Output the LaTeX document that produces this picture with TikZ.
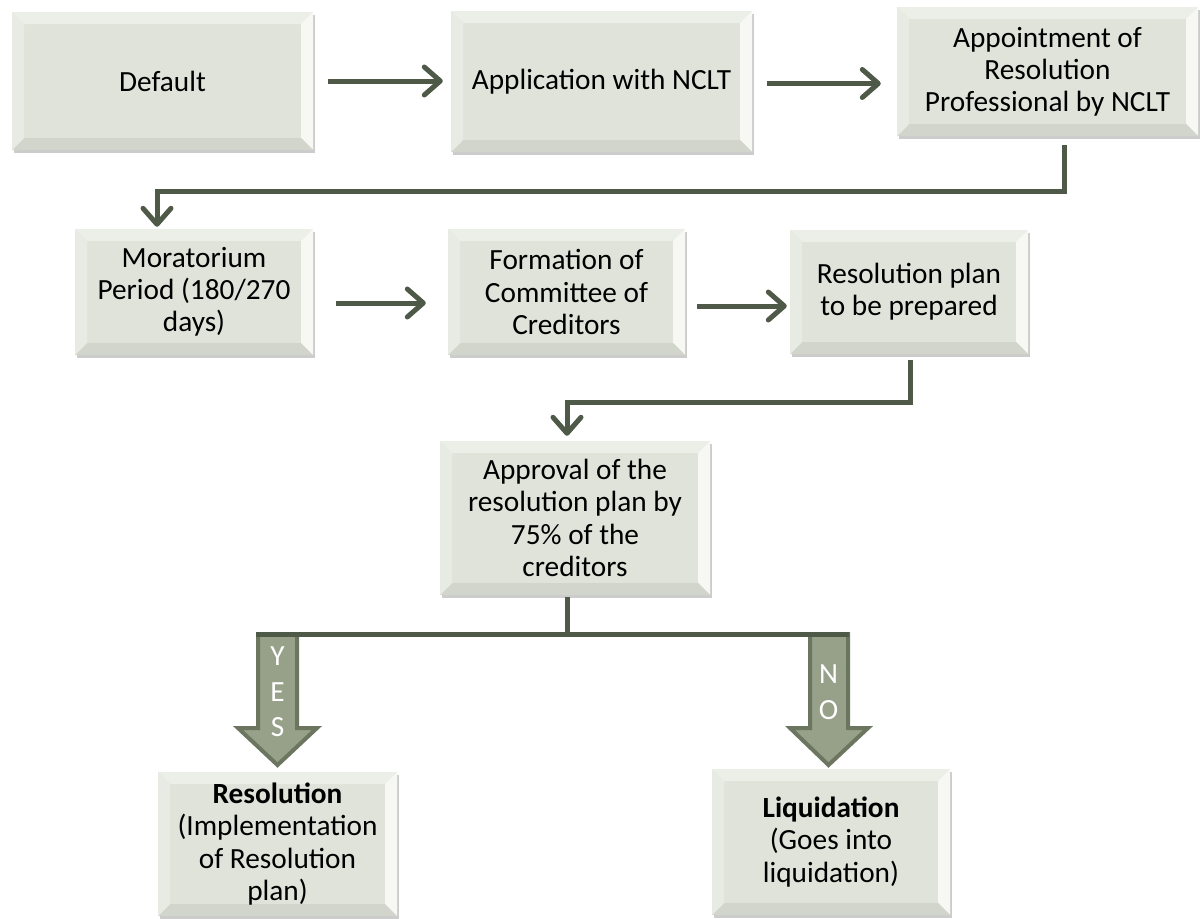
\documentclass[tikz,border=0pt]{standalone}
\usepackage{fontspec}
\setmainfont{Carlito}
\usetikzlibrary{arrows.meta,shadows,calc}
\definecolor{face}{HTML}{E0E3DA}
\definecolor{bvtop}{HTML}{ECEEE8}
\definecolor{bvleft}{HTML}{E8EBE3}
\definecolor{bvright}{HTML}{F7F8F4}
\definecolor{bvbot}{HTML}{D2D5CB}
\definecolor{conncol}{HTML}{4F5947}
\definecolor{bafill}{HTML}{97A18A}
\definecolor{badraw}{HTML}{6B755F}
\tikzset{
  bbox/.style={fill=face, inner sep=0pt, align=center,
    font=\fontsize{29.3pt}{32.2pt}\selectfont,
    drop shadow={shadow xshift=1.5pt, shadow yshift=-3pt, opacity=0.2, fill=black},
    path picture={
      \coordinate (pp-a) at (path picture bounding box.north west);
      \coordinate (pp-b) at (path picture bounding box.north east);
      \coordinate (pp-c) at (path picture bounding box.south east);
      \coordinate (pp-d) at (path picture bounding box.south west);
      \fill[bvtop] (pp-a) -- (pp-b) -- ([shift={(-12pt,-12pt)}]pp-b) -- ([shift={(12pt,-12pt)}]pp-a) -- cycle;
      \fill[bvright] (pp-b) -- (pp-c) -- ([shift={(-12pt,12pt)}]pp-c) -- ([shift={(-12pt,-12pt)}]pp-b) -- cycle;
      \fill[bvbot] (pp-c) -- (pp-d) -- ([shift={(12pt,12pt)}]pp-d) -- ([shift={(-12pt,12pt)}]pp-c) -- cycle;
      \fill[bvleft] (pp-d) -- (pp-a) -- ([shift={(12pt,-12pt)}]pp-a) -- ([shift={(12pt,12pt)}]pp-d) -- cycle;
    }},
  conn/.style={draw=conncol, line width=5pt, -{Straight Barb[length=16pt,width=28pt,round]}},
  bar/.style={draw=conncol, line width=5pt},
  bablock/.style={fill=bafill, draw=badraw, line width=4pt, line join=miter},
  batext/.style={text=white, align=center, inner sep=0pt, font=\fontsize{29.3pt}{35.5pt}\selectfont}
}
\begin{document}
\begin{tikzpicture}[x=1pt,y=-1pt]
\useasboundingbox (0,0) rectangle (1204,918);
\clip (0,0) rectangle (1204,918);

% boxes
\node[bbox, minimum width=301pt, minimum height=138pt] (default) at (162.5,81) {Default};
\node[bbox, minimum width=301pt, minimum height=141pt] (app) at (601.5,81.5) {Application with NCLT};
\node[bbox, minimum width=301pt, minimum height=129pt] (appt) at (1047.5,71.5) {Appointment of\\Resolution\\Professional by NCLT};
\node[bbox, minimum width=238pt, minimum height=126pt] (morat) at (194,292) {Moratorium\\Period (180/270\\days)};
\node[bbox, minimum width=237pt, minimum height=126pt] (form) at (566.5,292) {Formation of\\Committee of\\Creditors};
\node[bbox, minimum width=238pt, minimum height=124pt] (plan) at (909,292) {Resolution plan\\to be prepared};
\node[bbox, minimum width=270pt, minimum height=154pt] (approv) at (575,518) {Approval of the\\resolution plan by\\75\% of the\\creditors};
\node[bbox, minimum width=239pt, minimum height=144pt] (resol) at (277.5,844) {\textbf{Resolution}\\(Implementation\\of Resolution\\plan)};
\node[bbox, minimum width=238pt, minimum height=146pt] (liquid) at (831,842) {\textbf{Liquidation}\\(Goes into\\liquidation)};

% straight connectors
\draw[conn] ([xshift=15pt]default.east) -- ([xshift=-8pt]default.east -| app.west);
\draw[conn] ([xshift=15pt,yshift=-2pt]app.east) -- ([xshift=-16pt,yshift=-2pt]app.east -| appt.west);
\draw[conn] ([xshift=23pt,yshift=-11pt]morat.east) -- ([xshift=-22pt,yshift=-11pt]morat.east -| form.west);
\draw[conn] ([xshift=12pt,yshift=-14pt]form.east) -- ([xshift=-3pt,yshift=-14pt]form.east -| plan.west);

% elbow connectors
\coordinate (k1) at (1064,191);
\coordinate (k2) at (157,191);
\draw[conn] ([yshift=-9pt]appt.south -| k1) -- (k1) -- (k2) -- ([yshift=2pt]morat.north -| k2);
\coordinate (k3) at (910,402);
\coordinate (k4) at (567,402);
\draw[conn] ([yshift=-6pt]plan.south -| k3) -- (k3) -- (k4) -- ([yshift=5pt]approv.north -| k4);

% decision tree
\coordinate (jn) at (567,634);
\coordinate (yt) at (277.5,634);
\coordinate (nt) at (828.5,634);
\draw[bablock] ($(yt)+(-19.5,0)$) -- ++(0,94) -- ++(-20,0) -- ($(yt)+(0,131)$) -- ++(39.5,-37) -- ++(-20,0) -- ++(0,-94) -- cycle;
\draw[bablock] ($(nt)+(-18.5,0)$) -- ++(0,94) -- ++(-20,0) -- ($(nt)+(0,131)$) -- ++(39.5,-37) -- ++(-20,0) -- ++(0,-94) -- cycle;
\node[batext] (yesl) at ($(yt)+(0,58)$) {Y\\E\\S};
\node[batext] (nol) at ($(nt)+(0,58)$) {N\\O};
\draw[bar] ($(yt)+(-21.5,0)$) -- ($(nt)+(20.5,0)$);
\draw[bar] ([yshift=-2pt]approv.south -| jn) -- (jn);
\end{tikzpicture}
\end{document}
